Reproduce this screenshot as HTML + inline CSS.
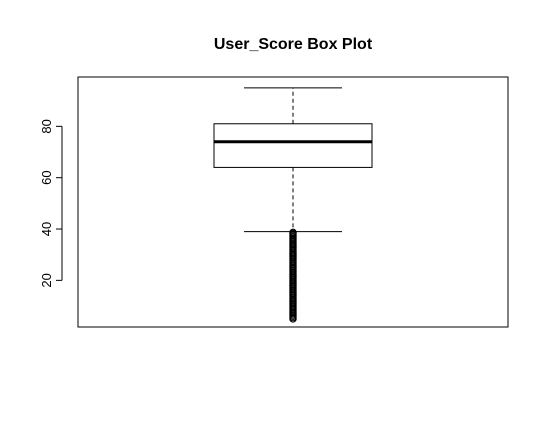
<!DOCTYPE html>
<html><head><meta charset="utf-8"><style>
body{margin:0;background:#fff;width:548px;height:426px;overflow:hidden}
svg{display:block;font-family:"Liberation Sans",Arial,sans-serif}
</style></head><body>
<svg id="c" width="548" height="426">
<text x="293" y="49" text-anchor="middle" font-size="16" font-weight="bold">User_Score Box Plot</text>
<rect x="78" y="77" width="430" height="250" fill="none" stroke="#000" stroke-width="1"/>
<g id="yaxis"></g>
<g id="box"></g>
</svg>
<script>
const yTicks=[20,40,60,80];
const stats={min:39,q1:64,median:74,q3:81,max:95};
const outliers=[38.7,38.3,38,37.5,37,36.5,36,35.5,35,34.5,34,33.5,33,32.5,32,31.5,31,30.5,30,29.5,29,28.5,28,27.5,27,26.5,26,25.5,25,24.5,24,23.5,23,22.5,22,21.5,21,20.5,20,19.5,19,18.5,18,17.5,17,16.5,16,15.5,15,14.5,14,13.5,13,12.5,12,11.5,11,10.5,10,9.5,9,8.5,8,7.5,7,6.5,6,5.5,5];
const NS='http://www.w3.org/2000/svg';
const y=v=>331.7-v*2.567;
const cx=293,bw=79,cw=49;
function mk(t,a,p){const e=document.createElementNS(NS,t);for(const k in a)e.setAttribute(k,a[k]);p.appendChild(e);return e;}
const ya=document.getElementById('yaxis');
mk('line',{x1:62,x2:62,y1:y(yTicks[0]),y2:y(yTicks[yTicks.length-1]),stroke:'#000'},ya);
yTicks.forEach(t=>{
 mk('line',{x1:56,x2:62,y1:y(t),y2:y(t),stroke:'#000'},ya);
 const tx=mk('text',{x:0,y:0,'font-size':13,'text-anchor':'middle',transform:`translate(51,${y(t)}) rotate(-90)`},ya);
 tx.textContent=t;
 
 
});
const g=document.getElementById('box');
const s={stroke:'#000','stroke-width':1,fill:'none'};
let e;
e=mk('line',{x1:cx,x2:cx,y1:y(stats.q3),y2:y(stats.max),...s,'stroke-dasharray':'4,3'},g);


e=mk('line',{x1:cx,x2:cx,y1:y(stats.q1),y2:y(stats.min),...s,'stroke-dasharray':'4,3'},g);


e=mk('line',{x1:cx-cw,x2:cx+cw,y1:y(stats.max),y2:y(stats.max),...s},g);


e=mk('line',{x1:cx-cw,x2:cx+cw,y1:y(stats.min),y2:y(stats.min),...s},g);


e=mk('rect',{x:cx-bw,y:y(stats.q3),width:2*bw,height:y(stats.q1)-y(stats.q3),fill:'#fff',stroke:'#000'},g);


e=mk('line',{x1:cx-bw,x2:cx+bw,y1:y(stats.median),y2:y(stats.median),stroke:'#000','stroke-width':3},g);


outliers.forEach(v=>{
 const c=mk('circle',{cx:cx,cy:y(v),r:3.2,fill:'none',stroke:'#000','stroke-width':1},g);
 
 
});
</script>
</body></html>
